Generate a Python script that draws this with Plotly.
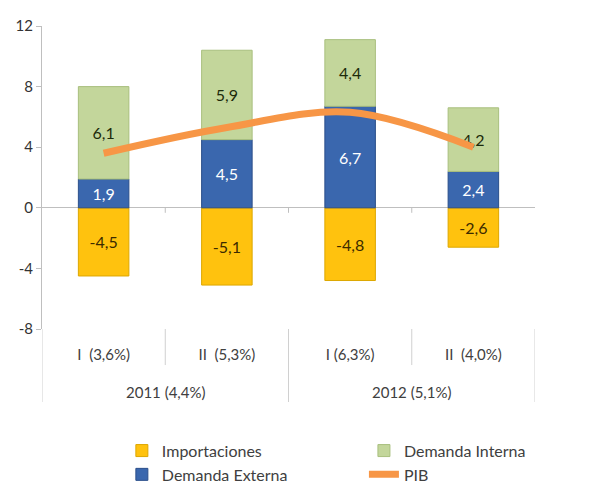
import plotly.graph_objects as go

halves = ["I\u00a0\u00a0(3,6%)", "II\u00a0\u00a0(5,3%)", "I\u00a0(6,3%)", "II\u00a0\u00a0(4,0%)"]
year_groups = ["2011 (4,4%)", "2012 (5,1%)"]
group_of_half = [0, 0, 1, 1]
importaciones = [-4.5, -5.1, -4.8, -2.6]
demanda_externa = [1.9, 4.5, 6.7, 2.4]
demanda_interna = [6.1, 5.9, 4.4, 4.2]
pib = [3.6, 5.3, 6.3, 4.0]
y_ticks = [-8, -4, 0, 4, 8, 12]

def fmt(vals):
    return [f"{v:.1f}".replace(".", ",") for v in vals]

font = "Lato, 'Open Sans', sans-serif"
axis_grey = "#BFBFBF"

fig = go.Figure()
fig.add_trace(go.Bar(
    x=halves, y=importaciones, name="Importaciones", legend="legend",
    marker=dict(color="#FFC20E", line=dict(color="#DDA700", width=1)),
    text=fmt(importaciones), textposition="inside", insidetextanchor="middle",
    textfont=dict(color="#3b2a00", size=16, family=font), textangle=0,
))
fig.add_trace(go.Bar(
    x=halves, y=demanda_externa, name="Demanda Externa", legend="legend",
    marker=dict(color="#3A67AE", line=dict(color="#2B4F8A", width=1)),
    text=fmt(demanda_externa), textposition="inside", insidetextanchor="middle",
    textfont=dict(color="white", size=16, family=font), textangle=0,
))
fig.add_trace(go.Bar(
    x=halves, y=demanda_interna, name="Demanda Interna", legend="legend2",
    marker=dict(color="#C3D69B", line=dict(color="#A9BF7E", width=1)),
    text=fmt(demanda_interna), textposition="inside", insidetextanchor="middle",
    textfont=dict(color="#1c2a0a", size=16, family=font), textangle=0,
))
fig.add_trace(go.Scatter(
    x=halves, y=pib, name="PIB", legend="legend2", mode="lines",
    line=dict(color="#F79646", width=7, shape="spline", smoothing=1.0),
))

n = len(halves)
shapes = []
# separators between halves (short) and between year groups (long)
for i in range(n + 1):
    b = i - 0.5
    is_group_edge = i == 0 or i == n or group_of_half[i] != group_of_half[i - 1]
    shapes.append(dict(type="line", xref="x", yref="paper", x0=b, x1=b,
                       y0=0, y1=-0.241 if is_group_edge else -0.119,
                       line=dict(color="#D0D0D0", width=1)))
    if 0 < i < n:
        shapes.append(dict(type="line", xref="x", yref="y", ysizemode="pixel",
                           yanchor=0, x0=b, x1=b, y0=0, y1=-5,
                           line=dict(color=axis_grey, width=1)))

annotations = []
for g, label in enumerate(year_groups):
    idx = [i for i in range(n) if group_of_half[i] == g]
    annotations.append(dict(text=label, x=sum(idx) / len(idx), xref="x",
                            y=-0.208, yref="paper", yanchor="middle",
                            showarrow=False,
                            font=dict(size=15, color="#404040", family=font)))

legend_common = dict(orientation="v", xref="paper", yref="container",
                     yanchor="top", xanchor="left", bgcolor="rgba(0,0,0,0)",
                     font=dict(size=16, color="#404040", family=font),
                     tracegroupgap=0, traceorder="normal")

fig.update_layout(
    width=610, height=484,
    margin=dict(l=42, r=75, t=26, b=155),
    barmode="relative", bargap=0.59,
    plot_bgcolor="white", paper_bgcolor="white",
    font=dict(family=font, size=15, color="#404040"),
    showlegend=True,
    legend=dict(x=0.162, y=0.104, **legend_common),
    legend2=dict(x=0.653, y=0.104, **legend_common),
    shapes=shapes, annotations=annotations,
)
fig.update_yaxes(
    range=[-8, 12], tickvals=y_ticks, ticktext=[str(t) for t in y_ticks],
    showgrid=False, showline=True, linecolor=axis_grey, linewidth=1,
    ticks="outside", ticklen=5, tickcolor=axis_grey,
    zeroline=True, zerolinecolor=axis_grey, zerolinewidth=1,
    tickfont=dict(size=15, color="#333333"),
)
fig.update_xaxes(
    type="category", range=[-0.5, n - 0.5],
    showgrid=False, showline=False, ticks="", ticklabelstandoff=15,
    tickfont=dict(size=15, color="#404040"),
)

fig.write_html("out.html")
